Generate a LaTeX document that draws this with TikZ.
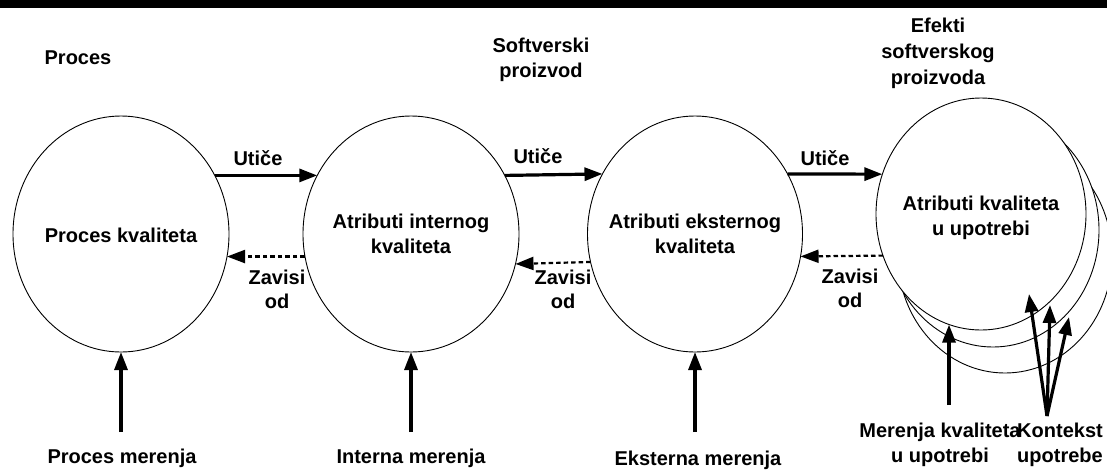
\documentclass[tikz,border=0pt]{standalone}
\usepackage{fontspec}
\setmainfont{Liberation Sans}
\usetikzlibrary{arrows.meta,shapes.geometric}
\begin{document}
\begin{tikzpicture}[x=1pt,y=-1pt,
  every node/.style={font=\fontsize{20pt}{25pt}\selectfont\bfseries},
  bubble/.style={ellipse,draw,line width=0.9pt,fill=white,inner sep=0pt,outer sep=0pt},
  txt/.style={anchor=base,align=center,inner sep=0pt},
  flow/.style={line width=3.2pt,-{Triangle[length=18pt,width=13pt]}},
  dep/.style={line width=2.2pt,dash pattern=on 4.5pt off 3pt,-{Triangle[length=18pt,width=13pt]}},
]
\useasboundingbox (0,0) rectangle (1107,472);
\clip (0,0) rectangle (1107,472);
\fill[black] (0,0) rectangle (1107,8);

% stage ellipses
\node[bubble,minimum width=216pt,minimum height=236pt] (c1) at (121,234) {};
\node[bubble,minimum width=216pt,minimum height=236pt] (c2) at (411,234) {};
\node[bubble,minimum width=215pt,minimum height=236pt] (c3) at (695,234) {};
% stacked ellipses of the last stage, back to front
\node[bubble,minimum width=214pt,minimum height=234pt] (u3) at (1005,256) {};
\node[bubble,minimum width=212pt,minimum height=234pt] (u2) at (993,230) {};
\node[bubble,minimum width=210pt,minimum height=232pt] (u1) at (981,214) {};

% texts inside the ellipses (base = baseline of the last line)
\node[txt] (t1) at (121,242) {Proces kvaliteta};
\node[txt] (t2) at (411,253) {Atributi internog\\kvaliteta};
\node[txt] (t3) at (695,253) {Atributi eksternog\\kvaliteta};
\node[txt] (t4) at (981,235) {Atributi kvaliteta\\u upotrebi};

% headings
\node[txt] (h1) at (78,64) {Proces};
\node[txt] (h2) at (541,77) {Softverski\\proizvod};
\node[txt,font=\fontsize{20pt}{26pt}\selectfont\bfseries] (h3) at (938,84) {Efekti\\softverskog\\proizvoda};

% influence arrows
\draw[flow] (c1.32) -- (c2.148);
\draw[flow] (c2.32) -- (c3.147);
\draw[flow] (c3.33) -- (u1.158);
\node[txt] (l1) at (258,165) {Utiče};
\node[txt] (l2) at (538,163) {Utiče};
\node[txt] (l3) at (825,165) {Utiče};

% dependency arrows
\draw[dep] (c2.192) -- (c1.348);
\draw[dep] (c3.195) -- (c2.344);
\draw[dep] (u1.203) -- (c3.348);
\node[txt,font=\fontsize{20pt}{24pt}\selectfont\bfseries] (d1) at (277,308) {Zavisi\\od};
\node[txt,font=\fontsize{20pt}{24pt}\selectfont\bfseries] (d2) at (563,308) {Zavisi\\od};
\node[txt,font=\fontsize{20pt}{24pt}\selectfont\bfseries] (d3) at (850,307) {Zavisi\\od};

% measurement inputs
\coordinate (m1) at (121,432);
\coordinate (m2) at (411,432);
\coordinate (m3) at (695,432);
\coordinate (m4) at (949,405);
\draw[flow] (m1) -- (c1.south);
\draw[flow] (m2) -- (c2.south);
\draw[flow] (m3) -- (c3.south);
\draw[flow] (m4) -- (u1.254 -| m4);

% context of use
\coordinate (k) at (1047,416);
\coordinate (k1) at (1029,294);
\coordinate (k2) at (1050,305);
\coordinate (k3) at (1069,317);
\draw[flow] (k) -- (k1);
\draw[flow] (k) -- (k2);
\draw[flow] (k) -- (k3);

% bottom labels
\node[txt] (b1) at (122,463) {Proces merenja};
\node[txt] (b2) at (411,463) {Interna merenja};
\node[txt] (b3) at (698,465) {Eksterna merenja};
\node[txt] (b4) at (940,462) {Merenja kvaliteta\\u upotrebi};
\node[txt] (b5) at (1060,462) {Kontekst\\upotrebe};
\end{tikzpicture}
\end{document}
